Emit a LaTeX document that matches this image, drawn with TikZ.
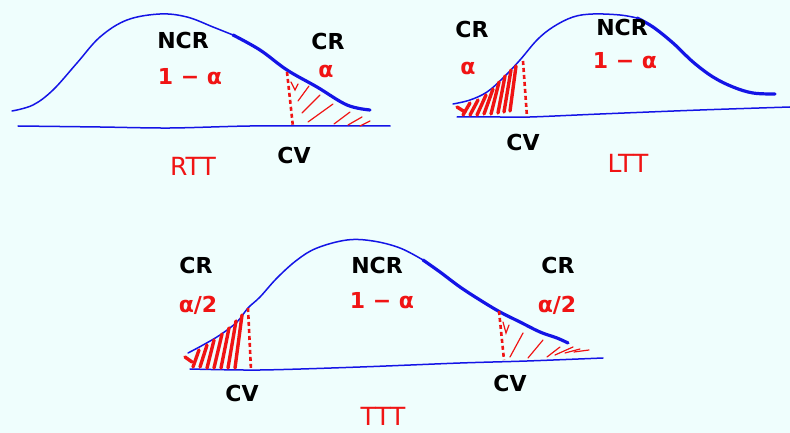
\documentclass[tikz,border=0pt]{standalone}
\usepackage{fontspec}
\setmainfont{DejaVu Sans}
\definecolor{bgc}{RGB}{239,254,253}
\definecolor{pen}{RGB}{20,20,230}
\definecolor{ink}{RGB}{240,20,20}
\tikzset{
  curvethin/.style={pen,line width=1.5pt,line cap=round,line join=round},
  curvethick/.style={pen,line width=3.2pt,line cap=round,line join=round},
  axisline/.style={pen,line width=1.5pt,line cap=round},
  cvline/.style={ink,line width=2.6pt,dash pattern=on 4pt off 3pt},
  hatchthin/.style={ink,line width=1.2pt,line cap=round},
  hatchthick/.style={ink,line width=3.4pt,line cap=round},
  blk/.style={font=\fontsize{22}{24}\selectfont\bfseries,text=black,inner sep=0pt},
  rd/.style={font=\fontsize{22}{24}\selectfont\bfseries,text=ink,inner sep=0pt},
  ttl/.style={font=\fontsize{25}{27}\selectfont,text=ink,inner sep=0pt}
}
\begin{document}
\begin{tikzpicture}[x=1pt,y=-1pt]
\useasboundingbox[fill=bgc] (0,0) rectangle (790,433);

% ---------- RTT ----------
\draw[curvethin] plot[smooth,tension=0.6] coordinates {(12,111) (33,105) (53,90) (77,63) (100,37) (127,20) (160,14) (187,17) (213,27) (233,35)};
\draw[curvethick] plot[smooth,tension=0.6] coordinates {(233,35) (260,50) (287,70) (317,87) (347,105) (370,110)};
\draw[axisline] plot[smooth] coordinates {(18,126) (100,127) (170,128) (250,126) (330,126) (390,126)};
\draw[cvline] (287,72) -- (293,127);
\draw[hatchthin] (291,82) -- (295,90) -- (298,84);
\draw[hatchthin] (298,101) -- (309,86);
\draw[hatchthin] (302,113) -- (320,95);
\draw[hatchthin] (308,122) -- (333,104);
\draw[hatchthin] (334,124) -- (350,112);
\draw[hatchthin] (348,125) -- (362,117);
\draw[hatchthin] (360,126) -- (370,121);
\node[blk] (ncr1) at (183,40) {NCR};
\node[rd] (conf1) at (190,77) {1 − α};
\node[blk] (cr1) at (328,41) {CR};
\node[rd] (a1) at (326,71) {α};
\node[blk] (cv1) at (294,155) {CV};
\node[ttl] (rtt) at (193,166) {RTT};

% ---------- LTT ----------
\draw[curvethin] plot[smooth,tension=0.6] coordinates {(453,104) (470,100) (487,92) (503,78) (520,60) (537,40) (553,27) (573,17) (593,14) (620,15) (637,18)};
\draw[curvethick] plot[smooth,tension=0.6] coordinates {(637,18) (653,27) (673,43) (693,62) (713,77) (733,87) (753,93) (775,94)};
\draw[axisline] plot[smooth] coordinates {(457,117) (500,117) (530,117) (600,114) (700,110) (790,107)};
\draw[cvline] (523,61) -- (527,117);
\draw[hatchthick] (457,107) -- (465,112);
\draw[hatchthick] (463,115) -- (470,103);
\draw[hatchthick] (470,115) -- (478,100);
\draw[hatchthick] (477,115) -- (486,95);
\draw[hatchthick] (484,114) -- (493,89);
\draw[hatchthick] (491,114) -- (499,82);
\draw[hatchthick] (498,113) -- (505,76);
\draw[hatchthick] (504,112) -- (511,70);
\draw[hatchthick] (510,111) -- (516,66);
\node[blk] (cr2) at (472,29) {CR};
\node[rd] (a2) at (468,68) {α};
\node[blk] (ncr2) at (622,27) {NCR};
\node[rd] (conf2) at (625,61) {1 − α};
\node[blk] (cv2) at (523,142) {CV};
\node[ttl] (ltt) at (628,163) {LTT};

% ---------- TTT ----------
\draw[curvethin] plot[smooth,tension=0.6] coordinates {(188,353) (203,345) (220,335) (237,322) (248,308) (260,297) (277,278) (297,260) (317,248) (347,240) (373,241) (400,248) (423,260)};
\draw[curvethick] plot[smooth,tension=0.6] coordinates {(423,260) (440,272) (460,287) (480,300) (500,312) (520,322) (540,332) (557,338) (568,343)};
\draw[axisline] plot[smooth] coordinates {(190,369) (260,370) (360,367) (460,363) (527,361) (603,358)};
\draw[cvline] (248,308) -- (251,370);
\draw[cvline] (499,311) -- (504,360);
\draw[hatchthick] (185,357) -- (192,362);
\draw[hatchthick] (193,367) -- (199,350);
\draw[hatchthick] (200,367) -- (207,345);
\draw[hatchthick] (207,368) -- (214,340);
\draw[hatchthick] (214,368) -- (222,334);
\draw[hatchthick] (221,368) -- (229,328);
\draw[hatchthick] (228,368) -- (236,321);
\draw[hatchthick] (235,368) -- (242,315);
\draw[hatchthin] (503,322) -- (506,333) -- (509,325);
\draw[hatchthin] (510,357) -- (523,333);
\draw[hatchthin] (528,358) -- (543,340);
\draw[hatchthin] (547,357) -- (560,347);
\draw[hatchthin] (555,355) -- (573,347);
\draw[hatchthin] (565,353) -- (580,349);
\draw[hatchthin] (574,352) -- (589,350);
\node[blk] (cr3) at (196,265) {CR};
\node[rd] (a3) at (198,305) {α/2};
\node[blk] (ncr3) at (377,265) {NCR};
\node[rd] (conf3) at (382,301) {1 − α};
\node[blk] (cr4) at (558,265) {CR};
\node[rd] (a4) at (557,305) {α/2};
\node[blk] (cv3) at (242,393) {CV};
\node[blk] (cv4) at (510,383) {CV};
\node[ttl] (ttt) at (383,416) {TTT};
\end{tikzpicture}
\end{document}
